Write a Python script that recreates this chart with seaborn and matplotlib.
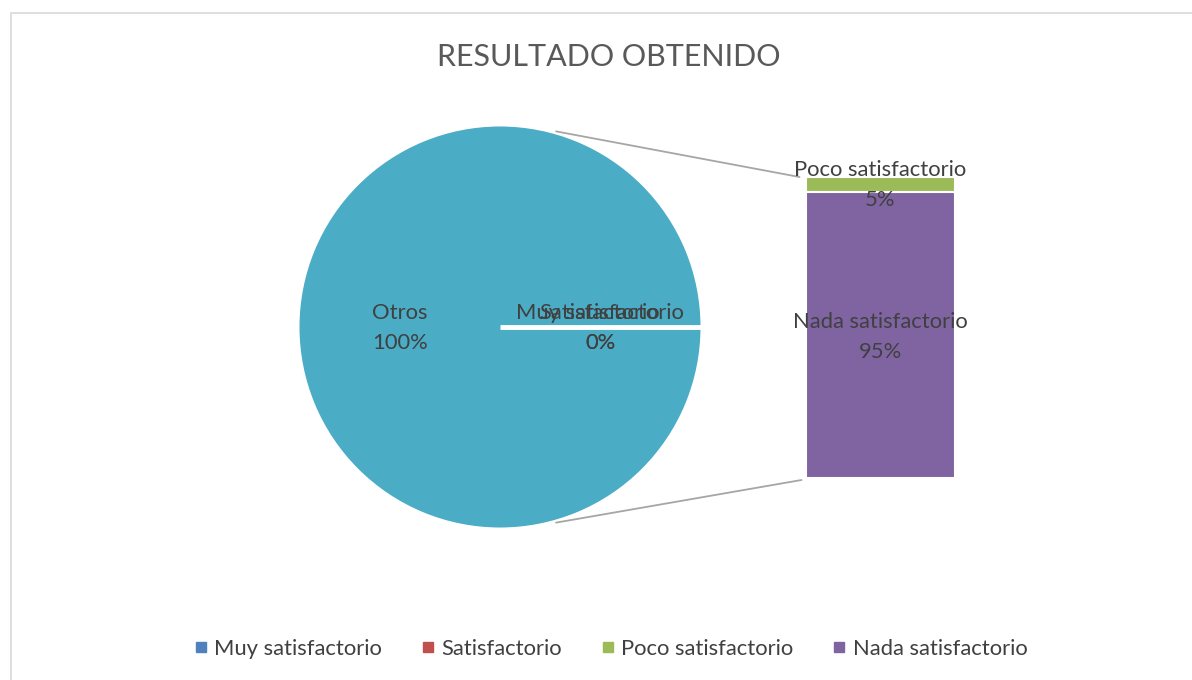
import matplotlib
matplotlib.use("Agg")
import matplotlib.pyplot as plt
import seaborn as sns
import numpy as np
from matplotlib.lines import Line2D
from matplotlib.patches import Rectangle

sns.set_theme(style="white")
plt.rcParams['font.family'] = ['Lato', 'DejaVu Sans']

# data
categories = ["Muy satisfactorio", "Satisfactorio", "Poco satisfactorio", "Nada satisfactorio"]
counts = [0, 0, 1, 19]
colors = ["#4F81BD", "#C0504D", "#9BBB59", "#8064A2"]
otros_color = "#4BACC6"
title = "RESULTADO OBTENIDO"

# split: first two in pie, last two go into the bar ("Otros")
total = sum(counts)
pie_vals = [counts[0], counts[1], counts[2] + counts[3]]
pie_labels = [categories[0], categories[1], "Otros"]
bar_cats = categories[2:]
bar_vals = counts[2:]

fig = plt.figure(figsize=(11.92, 6.8), dpi=100)
ax = fig.add_axes([0, 0, 1, 1])

# chart border
fig.patches.append(Rectangle((10.5 / 1192, -0.1), 1.2, (680 - 12.5) / 680 + 0.1,
                             transform=fig.transFigure, fill=False,
                             edgecolor="#D9D9D9", linewidth=1.2))

# pie
cx, cy, r = 500, 327, 200.5
ax.pie(pie_vals, colors=colors[:2] + [otros_color], startangle=0,
       center=(cx, cy), radius=r, counterclock=True,
       wedgeprops=dict(linewidth=0))
ax.set_xlim(0, 1192)
ax.set_ylim(680, 0)
ax.set_aspect("equal")
ax.axis("off")

# white separator where the zero slices sit (start angle 0)
ax.plot([cx, cx + r + 1], [cy, cy], color="white", linewidth=3.5, solid_capstyle="butt", zorder=3)

lab_col = "#404040"
fs = 15.8
pct = [v / total * 100 for v in pie_vals]
ax.text(400, 328, f"{pie_labels[2]}\n{pct[2]:.0f}%", ha="center", va="center",
        fontsize=fs, color=lab_col, linespacing=1.6, zorder=5)
for i in range(2):
    ax.text(600, 328, f"{pie_labels[i]}\n{pct[i]:.0f}%", ha="center", va="center",
            fontsize=fs, color=lab_col, linespacing=1.6, zorder=5)

# bar of pie
bx, bw = 880, 149
btop, bheight = 177, 301
bottom = btop
bar_bounds = []
for cat, v, c in zip(bar_cats, bar_vals, colors[2:]):
    h = v / sum(bar_vals) * bheight
    ax.bar(bx, h, bottom=bottom, width=bw, color=c, edgecolor="white", linewidth=1.5)
    bar_bounds.append((bottom, h))
    bottom += h

# connector lines
ang = np.deg2rad(74)
rr = r + 3
ax.plot([cx + rr * np.cos(ang), bx - bw / 2 - 6], [cy - rr * np.sin(ang), btop],
        color="#A6A6A6", linewidth=1.3, zorder=2)
ax.plot([cx + rr * np.cos(ang), bx - bw / 2 - 4], [cy + rr * np.sin(ang), btop + bheight + 2],
        color="#A6A6A6", linewidth=1.3, zorder=2)

# bar labels
(b0, h0), (b1, h1) = bar_bounds
ax.text(bx, b0 - 7, bar_cats[0], ha="center", va="center", fontsize=fs, color=lab_col, zorder=5)
ax.text(bx, b0 + h0 + 8, f"{bar_vals[0] / total * 100:.0f}%", ha="center", va="center",
        fontsize=fs, color=lab_col, zorder=5)
ax.text(bx, 337, f"{bar_cats[1]}\n{bar_vals[1] / total * 100:.0f}%", ha="center", va="center",
        fontsize=fs, color=lab_col, linespacing=1.6, zorder=5)

# title
ax.text(609, 57, title, ha="center", va="center", fontsize=22, color="#595959")

# legend
handles = [Line2D([0], [0], marker="s", linestyle="", markersize=7,
                  markerfacecolor=c, markeredgecolor=c) for c in colors]
ax.legend(handles, categories, loc="center", bbox_to_anchor=(612 / 1192, 1 - 649 / 680),
          ncol=4, frameon=False, fontsize=fs, labelcolor=lab_col,
          handlelength=0.4, handletextpad=0.4, columnspacing=1.9)

fig.savefig("out.png", dpi=100)
